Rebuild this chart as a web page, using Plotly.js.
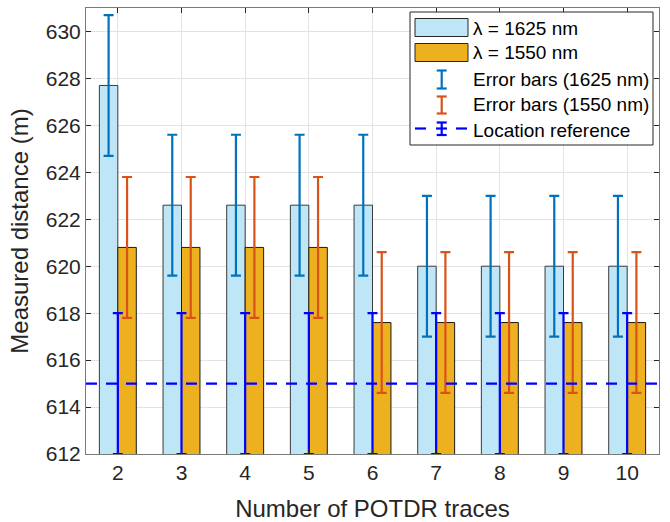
<!DOCTYPE html>
<html>
<head>
<meta charset="utf-8">
<script src="https://cdn.plot.ly/plotly-3.0.1.min.js"></script>
<style>html,body{margin:0;padding:0;background:#fff;}#chart{width:670px;height:522px;}</style>
</head>
<body>
<div id="chart"></div>
<script>
// ---- data ----
const traces = [2, 3, 4, 5, 6, 7, 8, 9, 10];
const dist1625 = [627.7, 622.6, 622.6, 622.6, 622.6, 620.0, 620.0, 620.0, 620.0];
const dist1550 = [620.8, 620.8, 620.8, 620.8, 617.6, 617.6, 617.6, 617.6, 617.6];
const err1625 = [3, 3, 3, 3, 3, 3, 3, 3, 3];
const err1550 = [3, 3, 3, 3, 3, 3, 3, 3, 3];
const refDistance = [615, 615, 615, 615, 615, 615, 615, 615, 615];
const refErr = [3, 3, 3, 3, 3, 3, 3, 3, 3];
const yTicks = [612, 614, 616, 618, 620, 622, 624, 626, 628, 630];
const legendLabels = ['\u03bb = 1625 nm', '\u03bb = 1550 nm', 'Error bars (1625 nm)', 'Error bars (1550 nm)', 'Location reference'];

// ---- styling ----
const C1625 = '#BFE6F7', C1550 = '#EDB120';
const E1625 = '#0072BD', E1550 = '#D95319', EREF = '#0000FF';
const FONT = 'Liberation Sans, Arial, Helvetica, sans-serif';

const W = 670, H = 522;
const M = {l: 86, r: 11, t: 8, b: 68};
const PW = W - M.l - M.r, PH = H - M.t - M.b;
const px = x => (x - M.l) / PW;
const py = y => (H - M.b - y) / PH;

const data = [
  {type: 'bar', x: traces, y: dist1625, name: legendLabels[0], showlegend: false,
   marker: {color: C1625, line: {color: '#3a3a3a', width: 1}},
   error_y: {type: 'data', array: err1625, visible: true, color: E1625, thickness: 2.2, width: 5},
   hoverinfo: 'x+y'},
  {type: 'bar', x: traces, y: dist1550, name: legendLabels[1], showlegend: false,
   marker: {color: C1550, line: {color: '#1a1a1a', width: 1}},
   error_y: {type: 'data', array: err1550, visible: true, color: E1550, thickness: 2.2, width: 5},
   hoverinfo: 'x+y'},
  {type: 'scatter', mode: 'markers', x: traces, y: refDistance, name: legendLabels[4], showlegend: false,
   marker: {size: 1, color: EREF, opacity: 0},
   error_y: {type: 'data', array: refErr, visible: true, color: EREF, thickness: 2.2, width: 5}}
];

const shapes = [
  // location reference dashed line
  {type: 'line', xref: 'paper', x0: 0, x1: 1, yref: 'y', y0: refDistance[0], y1: refDistance[0],
   line: {color: EREF, width: 2.2, dash: '11px,9px'}, layer: 'above'}
];
const annotations = [];

// manual MATLAB-like legend
const LX0 = 410, LX1 = 653, LY0 = 12, LY1 = 145;
shapes.push({type: 'rect', xref: 'paper', yref: 'paper', x0: px(LX0), x1: px(LX1), y0: py(LY1), y1: py(LY0),
  fillcolor: '#ffffff', line: {color: '#262626', width: 1}, layer: 'above'});
function rect(x0, x1, y0, y1, fill) {
  shapes.push({type: 'rect', xref: 'paper', yref: 'paper', x0: px(x0), x1: px(x1), y0: py(y1), y1: py(y0),
    fillcolor: fill, line: {color: '#262626', width: 1}, layer: 'above'});
}
function seg(x0, y0, x1, y1, color) {
  shapes.push({type: 'line', xref: 'paper', yref: 'paper', x0: px(x0), x1: px(x1), y0: py(y0), y1: py(y1),
    line: {color: color, width: 2.2}, layer: 'above'});
}
function ebar(xc, y0, y1, color) {
  seg(xc, y0, xc, y1, color);
  seg(xc - 5, y0, xc + 5, y0, color);
  seg(xc - 5, y1, xc + 5, y1, color);
}
rect(415, 468, 18.5, 36.5, C1625);
rect(415, 468, 43.5, 61.5, C1550);
ebar(441.7, 70.5, 88.5, E1625);
ebar(441.7, 96.5, 113.5, E1550);
ebar(441.7, 122.5, 135, EREF);
seg(415, 128.5, 426, 128.5, EREF);
seg(436, 128.5, 447, 128.5, EREF);
seg(456, 128.5, 467, 128.5, EREF);
const textY = [28, 53, 79.5, 105, 130];
legendLabels.forEach((t, i) => {
  annotations.push({xref: 'paper', yref: 'paper', x: px(471), y: py(textY[i]), xanchor: 'left', yanchor: 'middle',
    text: t, showarrow: false, font: {family: FONT, size: 19, color: '#000'}});
});

const layout = {
  width: W, height: H,
  margin: M,
  paper_bgcolor: '#fff', plot_bgcolor: '#fff',
  barmode: 'group', bargap: 0.42, bargroupgap: 0,
  showlegend: false,
  font: {family: FONT, color: '#262626'},
  xaxis: {
    range: [1.5, 10.5], tickvals: traces, ticktext: traces.map(String),
    showgrid: true, gridcolor: '#e3e3e3', gridwidth: 1, zeroline: false,
    showline: true, linecolor: '#7a7a7a', linewidth: 1, mirror: 'ticks',
    ticks: 'inside', ticklen: 5, tickcolor: '#262626', tickwidth: 1,
    tickfont: {family: FONT, size: 21, color: '#262626'},
    title: {text: 'Number of POTDR traces', font: {family: FONT, size: 24, color: '#262626'}, standoff: 17}
  },
  yaxis: {
    range: [612, 631], tickvals: yTicks, ticktext: yTicks.map(String),
    showgrid: true, gridcolor: '#e3e3e3', gridwidth: 1, zeroline: false,
    showline: true, linecolor: '#7a7a7a', linewidth: 1, mirror: 'ticks',
    ticks: 'inside', ticklen: 5, tickcolor: '#262626', tickwidth: 1,
    tickfont: {family: FONT, size: 21, color: '#262626'},
    title: {text: 'Measured distance (m)', font: {family: FONT, size: 24, color: '#262626'}, standoff: 10}
  },
  shapes: shapes,
  annotations: annotations
};

Plotly.newPlot('chart', data, layout, {displayModeBar: false, staticPlot: true});
</script>
</body>
</html>
